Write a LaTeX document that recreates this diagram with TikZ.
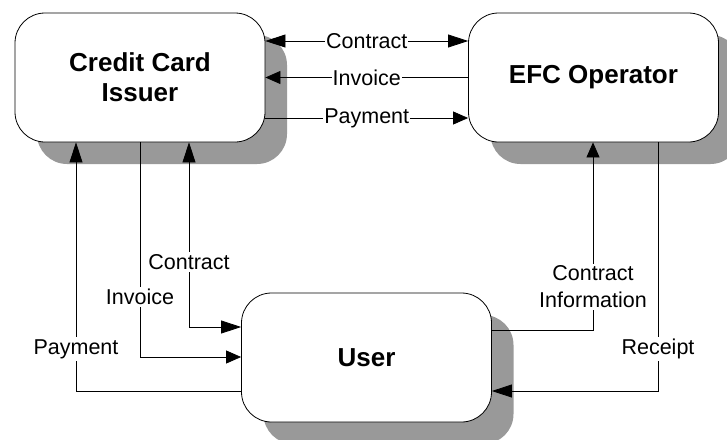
\documentclass[tikz,border=0pt]{standalone}
\usepackage{fontspec}
\setmainfont{Liberation Sans}
\usetikzlibrary{arrows.meta,shadows}

\begin{document}
\begin{tikzpicture}
	[x=1pt,y=-1pt,line width=0.8pt,
	box/.style={draw=black,fill=white,rounded corners=30pt,
		minimum width=250pt,minimum height=129pt,inner sep=0pt,align=center,
		font=\fontsize{26}{30}\selectfont\bfseries,
		drop shadow={shadow xshift=22pt,shadow yshift=-22pt,fill=black!40,opacity=1}},
	lbl/.style={fill=white,inner xsep=1pt,inner ysep=2pt,align=center,
		font=\fontsize{21.5}{27}\selectfont},
	big/.style={-{Triangle[length=20pt,width=13pt]}},
	small/.style={-{Triangle[length=15pt,width=13pt]}},
	both/.style={{Triangle[length=20pt,width=13pt]}-{Triangle[length=20pt,width=13pt]}}]
	\useasboundingbox (0,0) rectangle (727,439);
	\clip (0,0) rectangle (727,439);
	
	% the three parties
	\node[box] (issuer) at (140,77.5) {Credit Card\\Issuer};
	\node[box] (operator) at (593.5,77.5) {EFC Operator};
	\node[box] (user) at (366.5,357.5) {User};
	
	% issuer <-> operator
	\draw[both] (issuer.east |- 0,41) -- node[lbl] (tcontract) {Contract} (operator.west |- 0,41);
	\draw[small] (operator.west |- 0,77.5) -- node[lbl] (tinvoice) {Invoice} (issuer.east |- 0,77.5);
	\draw[small] (issuer.east |- 0,118) -- node[lbl] (tpayment) {Payment} (operator.west |- 0,118);
	
	% issuer <-> user
	\draw[big] (user.west |- 0,391) -| (issuer.south -| 76,0);
	\draw[small] (issuer.south -| 140,0) |- (user.west |- 0,357);
	\draw[both] (issuer.south -| 189,0) |- (user.west |- 0,327);
	\node[lbl] (upayment) at (76,349) {Payment};
	\node[lbl] (uinvoice) at (140,297) {Invoice};
	\node[lbl] (ucontract) at (189,262) {Contract};
	
	% operator <-> user
	\draw[small] (user.east |- 0,330) -| (operator.south -| 593,0);
	\draw[big] (operator.south -| 658,0) |- (user.east |- 0,391);
	\node[lbl] (uinfo) at (593,287) {Contract\\Information};
	\node[lbl] (ureceipt) at (658,349) {Receipt};
\end{tikzpicture}
\end{document}
